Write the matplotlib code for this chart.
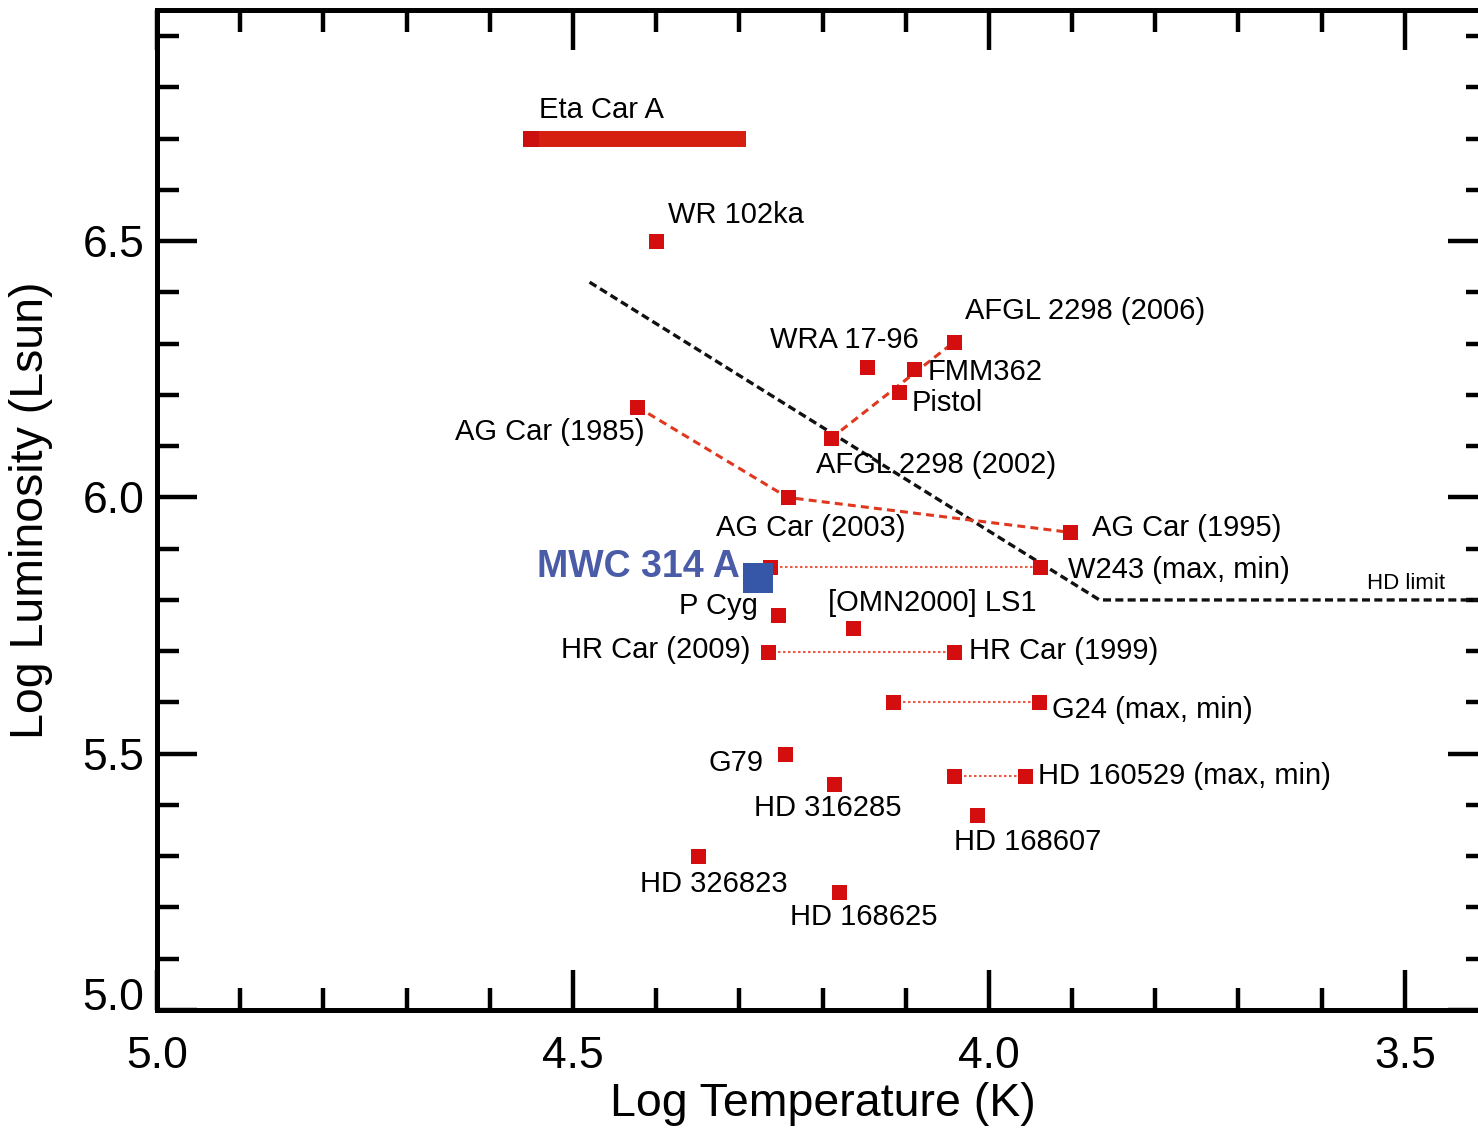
import matplotlib
matplotlib.use("Agg")
import matplotlib.pyplot as plt
from matplotlib.ticker import FixedLocator, MultipleLocator

plt.rcParams['font.family'] = ['Liberation Sans', 'DejaVu Sans']

# ---------------- data ----------------
star_names = ["WR 102ka", "WRA 17-96", "FMM362", "Pistol", "P Cyg", "[OMN2000] LS1",
              "G79", "HD 316285", "HD 168607", "HD 326823", "HD 168625"]
star_logT = [4.40, 4.147, 4.09, 4.108, 4.254, 4.163, 4.245, 4.186, 4.014, 4.35, 4.18]
star_logL = [6.50, 6.255, 6.25, 6.205, 5.77, 5.745, 5.50, 5.44, 5.38, 5.30, 5.23]

agcar_names = ["AG Car (1985)", "AG Car (2003)", "AG Car (1995)"]
agcar_logT = [4.423, 4.242, 3.903]
agcar_logL = [6.177, 6.00, 5.932]

afgl_names = ["AFGL 2298 (2002)", "AFGL 2298 (2006)"]
afgl_logT = [4.19, 4.042]
afgl_logL = [6.115, 6.303]

pair_names = ["W243 (max, min)", "HR Car (2009)|HR Car (1999)", "G24 (max, min)", "HD 160529 (max, min)"]
pair_logT_hot = [4.263, 4.266, 4.115, 4.042]
pair_logT_cool = [3.939, 4.042, 3.94, 3.956]
pair_logL = [5.865, 5.698, 5.60, 5.457]

mwc_name = "MWC 314 A"
mwc_logT = 4.277
mwc_logL = 5.842

etacar_name = "Eta Car A"
etacar_logT = [4.55, 4.292]
etacar_logL = 6.70

hdlimit_logT = [4.48, 3.867, 3.40]
hdlimit_logL = [6.42, 5.80, 5.80]

xticks_major = [5.0, 4.5, 4.0, 3.5]
yticks_major = [5.0, 5.5, 6.0, 6.5]

# ---------------- style ----------------
RED = '#d40e0e'
BAR = '#d6200f'
LINERED = '#e0381f'
DOTRED = '#ea5a45'
BLUE = '#3656a8'
MWCTXT = '#4a5ba8'
LFS = 21

fig = plt.figure(figsize=(14.78, 11.30), dpi=100)
ax = fig.add_axes([157/1478, 1 - 1010/1130, (1488-157)/1478, 1000/1130])

# HD limit
ax.plot(hdlimit_logT, hdlimit_logL, color='#111111', lw=2.4, dashes=(2.4, 1.3), zorder=2)
ax.text(3.545, 5.832, "HD limit", fontsize=16, ha='left', va='center', zorder=5)

# AG Car track
ax.plot(agcar_logT, agcar_logL, color=LINERED, lw=2.2, dashes=(2.6, 1.7), zorder=2)
# AFGL 2298 track
ax.plot(afgl_logT, afgl_logL, color=LINERED, lw=2.2, dashes=(2.6, 1.7), zorder=2)
# max/min pairs
for th, tc, l in zip(pair_logT_hot, pair_logT_cool, pair_logL):
    ax.plot([th, tc], [l, l], color=DOTRED, lw=1.5, dashes=(1.2, 1.2), zorder=2)

# Eta Car bar
ax.plot(etacar_logT, [etacar_logL, etacar_logL], color=BAR, lw=11.5,
        solid_capstyle='butt', zorder=3)
ax.plot([etacar_logT[0]], [etacar_logL], 's', color='#cc1010', ms=11, mew=0, zorder=4)

mk = dict(marker='s', ls='none', color=RED, ms=10.8, mew=0, zorder=4)
ax.plot(star_logT, star_logL, **mk)
ax.plot(agcar_logT, agcar_logL, **mk)
ax.plot(afgl_logT, afgl_logL, **mk)
ax.plot(pair_logT_hot, pair_logL, **mk)
ax.plot(pair_logT_cool, pair_logL, **mk)
ax.plot([mwc_logT], [mwc_logL], marker='s', ls='none', color=BLUE, ms=21.5, mew=0, zorder=5)

def lab(text, x, y, dx, dy, ha='left', **kw):
    ax.annotate(text, (x, y), xytext=(dx, dy), textcoords='offset pixels',
                ha=ha, va='center', fontsize=kw.pop('fontsize', LFS), zorder=6, **kw)

# labels for single stars
star_offsets = {
    "WR 102ka": (12, 26, 'left'),
    "WRA 17-96": (-22, 27, 'center'),
    "FMM362": (14, -3, 'left'),
    "Pistol": (13, -11, 'left'),
    "P Cyg": (-20, 9, 'right'),
    "[OMN2000] LS1": (-25, 25, 'left'),
    "G79": (-22, -9, 'right'),
    "HD 316285": (-6, -24, 'center'),
    "HD 168607": (-23, -27, 'left'),
    "HD 326823": (-58, -28, 'left'),
    "HD 168625": (-49, -25, 'left'),
}
for n, t, l in zip(star_names, star_logT, star_logL):
    dx, dy, ha = star_offsets[n]
    lab(n, t, l, dx, dy, ha)

lab(agcar_names[0], agcar_logT[0], agcar_logL[0], 8, -25, 'right')
lab(agcar_names[1], agcar_logT[1], agcar_logL[1], 23, -31, 'center')
lab(agcar_names[2], agcar_logT[2], agcar_logL[2], 22, 4, 'left')
lab(afgl_names[0], afgl_logT[0], afgl_logL[0], -15, -27, 'left')
lab(afgl_names[1], afgl_logT[1], afgl_logL[1], 11, 31, 'left')

# pairs
lab(pair_names[0], pair_logT_cool[0], pair_logL[0], 28, -3, 'left')
hr_hot, hr_cool = pair_names[1].split('|')
lab(hr_hot, pair_logT_hot[1], pair_logL[1], -17, 2, 'right')
lab(hr_cool, pair_logT_cool[1], pair_logL[1], 15, 1, 'left')
lab(pair_names[2], pair_logT_cool[2], pair_logL[2], 13, -8, 'left')
lab(pair_names[3], pair_logT_cool[3], pair_logL[3], 13, 0, 'left')

lab(mwc_name, mwc_logT, mwc_logL, -19, 11, 'right', fontsize=27,
    fontweight='bold', color=MWCTXT)
lab(etacar_name, etacar_logT[0], etacar_logL, 8, 29, 'left')

# ---------------- axes ----------------
ax.set_xlim(5.0, 3.4)
ax.set_ylim(5.0, 6.951)
ax.xaxis.set_major_locator(FixedLocator(xticks_major))
ax.yaxis.set_major_locator(FixedLocator(yticks_major))
ax.xaxis.set_minor_locator(MultipleLocator(0.1))
ax.yaxis.set_minor_locator(MultipleLocator(0.1))
ax.set_xticklabels([f"{v:.1f}" for v in xticks_major])
ax.set_yticklabels([f"{v:.1f}" for v in yticks_major])

for s in ax.spines.values():
    s.set_linewidth(3.6)
ax.tick_params(which='both', direction='in', top=True, right=True, width=3.2,
               labelsize=32, colors='black')
ax.tick_params(which='major', length=29)
ax.tick_params(which='minor', length=16)
ax.tick_params(axis='x', which='major', pad=19)
ax.tick_params(axis='y', which='major', pad=9)

ax.set_xlabel("Log Temperature (K)", fontsize=33.5)
ax.set_ylabel("Log Luminosity (Lsun)", fontsize=33.5)
ax.xaxis.set_label_coords(0.5, -0.094)
ax.yaxis.set_label_coords(-0.095, 0.5)
ax.xaxis.label.set_va('center')
ax.yaxis.label.set_va('center')

ax.yaxis.get_major_ticks()[0].label1.set_verticalalignment('baseline')

fig.savefig("out.png", dpi=100)
